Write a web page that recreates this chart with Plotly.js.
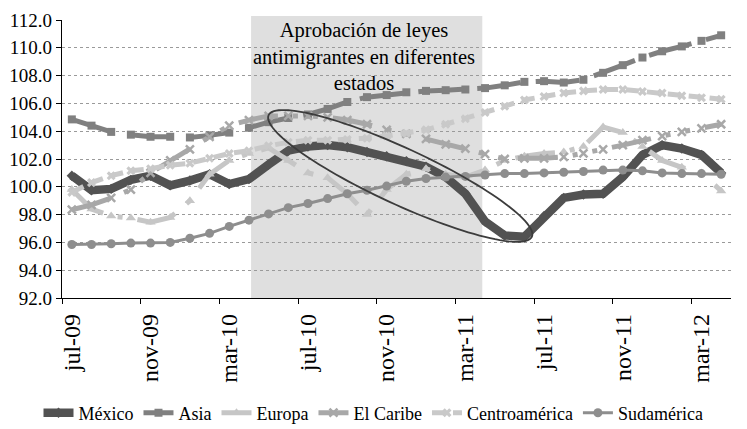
<!DOCTYPE html>
<html>
<head>
<meta charset="utf-8">
<script src="https://cdn.plot.ly/plotly-3.0.1.min.js"></script>
<style>
  html, body { margin: 0; padding: 0; background: #ffffff; }
  #chart { width: 747px; height: 429px; }
</style>
</head>
<body>
<div id="chart"></div>
<script>
// ---- data ----
const months = [
  "jul-09","ago-09","sep-09","oct-09","nov-09","dic-09","ene-10","feb-10","mar-10","abr-10","may-10","jun-10",
  "jul-10","ago-10","sep-10","oct-10","nov-10","dic-10","ene-11","feb-11","mar-11","abr-11","may-11","jun-11",
  "jul-11","ago-11","sep-11","oct-11","nov-11","dic-11","ene-12","feb-12","mar-12","abr-12"
];
const mexico = [100.8, 99.75, 99.85, 100.5, 100.8, 100.1, 100.45, 100.9, 100.2, 100.55, 101.6, 102.6,
  102.9, 103.0, 102.85, 102.5, 102.2, 101.85, 101.45, 100.7, 99.5, 97.5, 96.5, 96.4,
  97.9, 99.2, 99.45, 99.5, 100.7, 102.3, 103.0, 102.75, 102.3, 101.0];
const asia = [104.85, 104.4, 103.95, 103.75, 103.6, 103.6, 103.55, 103.7, 103.9, 104.25, 104.65, 104.95,
  105.2, 105.6, 106.1, 106.45, 106.6, 106.8, 106.9, 106.95, 107.0, 107.1, 107.3, 107.55,
  107.6, 107.5, 107.7, 108.2, 108.75, 109.3, 109.75, 110.1, 110.5, 110.9];
const europa = [99.8, 98.4, 97.9, 97.75, 97.45, 97.8, 99.0, 100.9, 101.9, 102.4, 102.8, 101.9,
  101.0, 100.65, 99.5, 98.0, 99.8, 100.9, 101.3, 100.9, 100.7, 101.2, 101.9, 102.2,
  102.4, 102.5, 102.9, 104.3, 103.9, 102.9, 101.9, 101.4, 101.0, 99.7];
const elCaribe = [98.35, 98.7, 99.2, 99.8, 101.0, 101.9, 102.7, 103.6, 104.4, 104.8, 105.1, 105.1,
  105.1, 105.0, 104.8, 104.5, 104.1, 103.8, 103.45, 103.05, 102.75, 102.35, 102.0, 102.05,
  102.05, 102.15, 102.4, 102.7, 103.0, 103.35, 103.65, 103.95, 104.2, 104.5];
const centroamerica = [99.6, 100.3, 100.8, 101.15, 101.3, 101.55, 101.7, 102.05, 102.4, 102.6, 102.95, 103.2,
  103.35, 103.35, 103.4, 103.5, 103.65, 103.85, 104.1, 104.5, 104.9, 105.35, 105.8, 106.25,
  106.5, 106.75, 106.9, 107.0, 107.0, 106.85, 106.75, 106.55, 106.4, 106.3];
const sudamerica = [95.85, 95.85, 95.9, 95.95, 95.95, 96.0, 96.3, 96.65, 97.15, 97.6, 98.05, 98.5,
  98.8, 99.15, 99.5, 99.75, 100.05, 100.4, 100.6, 100.7, 100.75, 100.85, 100.95, 100.95,
  101.0, 101.05, 101.1, 101.2, 101.2, 101.15, 101.0, 100.95, 100.95, 100.9];

const seriesNames = ["México", "Asia", "Europa", "El Caribe", "Centroamérica", "Sudamérica"];
const annotationText = "Aprobación de leyes<br>antimigrantes en diferentes<br>estados";

// ---- styling ----
const FONT = "'Liberation Serif', 'Times New Roman', serif";
const W = 747, H = 429;
const M = {l: 62, r: 16, t: 20, b: 131};
const xRange = [-0.5, months.length - 0.5];
const yRange = [92, 112];

function tr(name, y, color, width, dash, symbol, msize, mcolor) {
  return {
    type: "scatter", mode: "lines+markers", name: name, x: months, y: y,
    line: {color: color, width: width, dash: dash},
    marker: {symbol: symbol, size: msize, color: mcolor || color, line: {width: 0}},
    hoverinfo: "skip"
  };
}

const traces = [
  tr(seriesNames[0], mexico, "#525252", 8.5, "solid", "diamond", 8),
  tr(seriesNames[1], asia, "#808080", 5, "44px,15px", "square", 8),
  tr(seriesNames[2], europa, "#c6c6c6", 5, "40px,15px,5px,15px", "triangle-up", 9),
  tr(seriesNames[3], elCaribe, "#a8a8a8", 5, "40px,15px,5px,15px,5px,15px", "x-thin-open", 8),
  tr(seriesNames[4], centroamerica, "#c9c9c9", 5, "13px,8px", "x", 8),
  tr(seriesNames[5], sudamerica, "#8e8e8e", 3, "solid", "circle", 9)
];
traces[3].marker.line = {width: 2.5, color: "#a0a0a0"};

// ellipse highlighting the fall (centre in data units, radii in pixels)
const ell = {cx: 16.69, cy: 100.78, a: 145, b: 28, angle: 24.8};
const plotW = W - M.l - M.r, plotH = H - M.t - M.b;
const pxX = plotW / (xRange[1] - xRange[0]);
const pxY = plotH / (yRange[1] - yRange[0]);
function ellipsePath() {
  const th = ell.angle * Math.PI / 180;
  let d = "";
  for (let k = 0; k <= 120; k++) {
    const t = 2 * Math.PI * k / 120;
    const px = ell.a * Math.cos(t), py = ell.b * Math.sin(t);
    const X = px * Math.cos(th) - py * Math.sin(th);
    const Y = px * Math.sin(th) + py * Math.cos(th);
    const dx = ell.cx + X / pxX, dy = ell.cy - Y / pxY;
    const u = (dx - xRange[0]) / (xRange[1] - xRange[0]);
    const v = (dy - yRange[0]) / (yRange[1] - yRange[0]);
    d += (k === 0 ? "M" : "L") + u.toFixed(5) + "," + v.toFixed(5);
  }
  return d + "Z";
}

const layout = {
  width: W, height: H,
  margin: M,
  paper_bgcolor: "#ffffff", plot_bgcolor: "#ffffff",
  font: {family: FONT, color: "#000000"},
  showlegend: true,
  xaxis: {
    type: "category", range: xRange, autorange: false,
    tickmode: "linear", tick0: 0, dtick: 4, tickson: "boundaries",
    ticks: "outside", ticklen: 5, tickcolor: "#000", tickwidth: 1,
    ticklabelstandoff: 5,
    tickangle: -90, tickfont: {family: FONT, size: 24, color: "#000"},
    showgrid: false, showline: true, linecolor: "#000", linewidth: 1.3,
    zeroline: false, fixedrange: true
  },
  yaxis: {
    range: yRange, autorange: false, tickmode: "linear", tick0: 92, dtick: 2,
    tickformat: ".1f", ticks: "outside", ticklen: 5, tickcolor: "#000", tickwidth: 1,
    tickfont: {family: FONT, size: 19, color: "#000"},
    showgrid: true, gridcolor: "#9a9a9a", gridwidth: 1, griddash: "dot",
    showline: true, linecolor: "#000", linewidth: 1.3, zeroline: false, fixedrange: true
  },
  legend: {
    orientation: "h", x: 0.5, xanchor: "center", xref: "container",
    y: 16 / H, yanchor: "middle", yref: "container",
    font: {family: FONT, size: 18, color: "#000"},
    bgcolor: "rgba(0,0,0,0)", traceorder: "normal", itemwidth: 30
  },
  shapes: [
    {type: "rect", xref: "x", yref: "paper", x0: 9.11, x1: 20.86, y0: 0, y1: 1.0144,
     fillcolor: "#dfdfdf", line: {width: 0}, layer: "below"},
    {type: "path", xref: "paper", yref: "paper", path: ellipsePath(),
     line: {color: "#3c3c3c", width: 1.8}, fillcolor: "rgba(0,0,0,0)", layer: "above"}
  ],
  annotations: [
    {text: annotationText, xref: "x", x: 14.83, yref: "paper", y: 0.87, yanchor: "middle",
     showarrow: false, font: {family: FONT, size: 20.5, color: "#000"}, align: "center"}
  ]
};

Plotly.newPlot("chart", traces, layout, {displayModeBar: false, staticPlot: true});
</script>
</body>
</html>
